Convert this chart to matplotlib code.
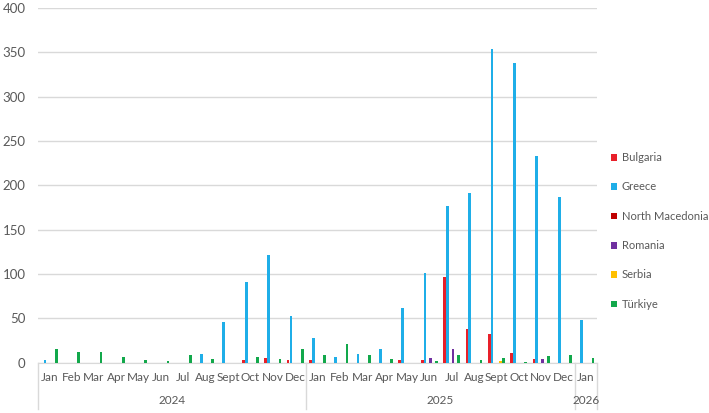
import matplotlib
matplotlib.use("Agg")
import matplotlib.pyplot as plt
import matplotlib.transforms as mtransforms
import numpy as np

plt.rcParams['font.family'] = ['Lato', 'DejaVu Sans']

months = ["Jan", "Feb", "Mar", "Apr", "May", "Jun", "Jul", "Aug", "Sept", "Oct", "Nov", "Dec",
          "Jan", "Feb", "Mar", "Apr", "May", "Jun", "Jul", "Aug", "Sept", "Oct", "Nov", "Dec",
          "Jan"]
years = ["2024", "2025", "2026"]
year_counts = [12, 12, 1]

series_names = ["Bulgaria", "Greece", "North Macedonia", "Romania", "Serbia", "Türkiye"]

bulgaria = [0, 0, 0, 0, 0, 0, 0, 0, 0, 3, 5, 3,
            3, 0, 0, 0, 3, 3, 97, 38, 32, 11, 4, 0,
            0]
greece = [3, 0, 0, 0, 0, 0, 0, 9.5, 46, 91, 121, 53,
          28, 6, 10, 15, 61, 101, 177, 191, 354, 338, 233, 187,
          48]
north_macedonia = [0] * 25
romania = [0, 0, 0, 0, 0, 0, 0, 0, 0, 0, 0, 0,
           0, 0, 0, 0, 0, 5, 15, 0, 0, 0, 4, 0,
           0]
serbia = [0, 0, 0, 0, 0, 0, 0, 0, 0, 0, 0, 0,
          0, 0, 0, 0, 0, 0, 0, 0, 1.5, 0, 0, 0,
          0]
turkiye = [15, 12, 11.5, 6, 3, 1.5, 8, 4, 0, 6, 4.5, 15,
           9, 21, 9, 4, 0, 1.5, 9, 3, 5, 1, 7, 8.5,
           5]

series_values = [bulgaria, greece, north_macedonia, romania, serbia, turkiye]
colors = ["#E8202A", "#1FAEE8", "#C00000", "#7030A0", "#FFC000", "#12A84B"]

W, H = 709, 413
fig = plt.figure(figsize=(W / 100, H / 100), dpi=100)
left, right, top, bottom = 38, 597, 8, 362.5
ax = fig.add_axes([left / W, 1 - bottom / H, (right - left) / W, (bottom - top) / H])

x = np.arange(len(months))
bw = 0.127
handles = []
for i, (name, vals, c) in enumerate(zip(series_names, series_values, colors)):
    h = ax.bar(x + (i - 2.5) * bw, vals, width=bw * 0.95, color=c, label=name, zorder=3)
    handles.append(h)

ax.set_xlim(-0.5, len(months) - 0.5)
ax.set_ylim(0, 400)
ax.set_yticks(np.arange(0, 401, 50))
ax.grid(axis='y', color='#D9D9D9', linewidth=1, zorder=0)
for s in ['top', 'right', 'left']:
    ax.spines[s].set_visible(False)
ax.spines['bottom'].set_color('#D9D9D9')
ax.tick_params(axis='y', length=0, pad=9, labelsize=9.5, labelcolor='#595959')
ax.set_xticks(x)
ax.set_xticklabels(months)
ax.tick_params(axis='x', length=0, pad=7, labelsize=8.5, labelcolor='#595959')

# Year group labels and separators
ah = bottom - top
trans = mtransforms.blended_transform_factory(ax.transData, ax.transAxes)
start = 0
seps = [-0.5]
for yr, n in zip(years, year_counts):
    center = start + (n - 1) / 2
    ax.text(center, -38 / ah, yr, transform=trans, ha='center', va='center',
            fontsize=8.5, color='#595959')
    start += n
    seps.append(start - 0.5)
for s in seps:
    ax.plot([s, s], [0, -46 / ah], transform=trans, color='#D9D9D9', linewidth=1,
            clip_on=False)

leg = fig.legend(handles=handles, labels=series_names, loc='center left',
                 bbox_to_anchor=(611 / W, 1 - 231 / H), frameon=False,
                 fontsize=8, labelcolor='#595959', handlelength=0.55, handleheight=0.55,
                 handletextpad=0.4, labelspacing=1.65, borderpad=0, borderaxespad=0)

fig.savefig("out.png", dpi=100)
